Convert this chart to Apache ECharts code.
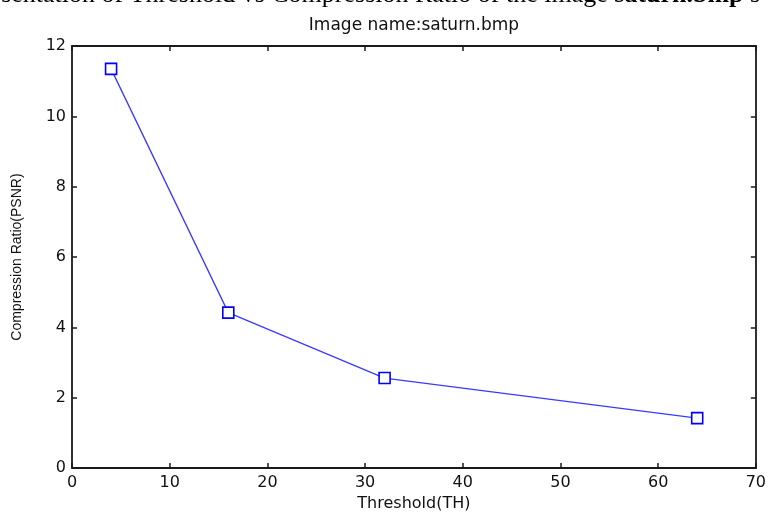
<!DOCTYPE html>
<html>
<head>
<meta charset="utf-8">
<script src="https://cdn.jsdelivr.net/npm/echarts@6/dist/echarts.min.js"></script>
<style>
html,body{margin:0;padding:0;background:#fff;}
#main{width:769px;height:517px;}
</style>
</head>
<body>
<div id="main"></div>
<script>
const thresholds = [4, 16, 32, 64];
const ratios = [11.35, 4.42, 2.56, 1.42];
const xTicks = { min: 0, max: 70, interval: 10 };
const yTicks = { min: 0, max: 12, interval: 2 };
const chartTitle = 'Image name:saturn.bmp';
const xName = 'Threshold(TH)';
const yName = 'Compression Ratio(PSNR)';

const chart = echarts.init(document.getElementById('main'), null, { renderer: 'canvas' });

const axisLineStyle = { color: '#1a1a1a', width: 1.8 };
const tickStyle = { show: true, inside: true, length: 5, lineStyle: { color: '#1a1a1a', width: 1.5 } };
const labelFont = { fontFamily: 'DejaVu Sans', fontSize: 16, color: '#111' };

const option = {
  animation: false,
  backgroundColor: '#fff',
  graphic: [
    {
      type: 'text',
      left: -32,
      top: -18,
      style: {
        text: 'presentation of Threshold vs Compression Ratio of the image {b|saturn.bmp} s',
        fontFamily: 'Liberation Serif',
        fontSize: 26,
        fill: '#000',
        rich: {
          b: { fontFamily: 'Liberation Serif', fontSize: 26, fontWeight: 'bold', fill: '#000' }
        }
      }
    },
    {
      type: 'text',
      x: 414,
      y: 26,
      style: {
        text: chartTitle,
        fontFamily: 'DejaVu Sans',
        fontSize: 17,
        fill: '#111',
        align: 'center',
        verticalAlign: 'middle'
      }
    }
  ],
  grid: { left: 72, right: 11, top: 46, bottom: 45, containLabel: false },
  xAxis: [
    {
      type: 'value',
      min: xTicks.min, max: xTicks.max, interval: xTicks.interval,
      position: 'bottom',
      name: xName,
      nameLocation: 'middle',
      nameGap: 27,
      nameTextStyle: { fontFamily: 'DejaVu Sans', fontSize: 16, color: '#111' },
      axisLine: { show: true, onZero: false, lineStyle: axisLineStyle },
      axisTick: tickStyle,
      axisLabel: Object.assign({ margin: 7 }, labelFont),
      splitLine: { show: false }
    },
    {
      type: 'value',
      min: xTicks.min, max: xTicks.max, interval: xTicks.interval,
      position: 'top',
      axisLine: { show: true, onZero: false, lineStyle: axisLineStyle },
      axisTick: tickStyle,
      axisLabel: { show: false },
      splitLine: { show: false }
    }
  ],
  yAxis: [
    {
      type: 'value',
      min: yTicks.min, max: yTicks.max, interval: yTicks.interval,
      position: 'left',
      name: yName,
      nameLocation: 'middle',
      nameGap: 48,
      nameRotate: 90,
      nameTextStyle: { fontFamily: 'Liberation Sans', fontSize: 14, color: '#111' },
      axisLine: { show: true, onZero: false, lineStyle: axisLineStyle },
      axisTick: tickStyle,
      axisLabel: Object.assign({ margin: 6 }, labelFont),
      splitLine: { show: false }
    },
    {
      type: 'value',
      min: yTicks.min, max: yTicks.max, interval: yTicks.interval,
      position: 'right',
      axisLine: { show: true, onZero: false, lineStyle: axisLineStyle },
      axisTick: tickStyle,
      axisLabel: { show: false },
      splitLine: { show: false }
    }
  ],
  series: [
    {
      type: 'line',
      xAxisIndex: 0,
      yAxisIndex: 0,
      data: thresholds.map((t, i) => [t, ratios[i]]),
      symbol: 'rect',
      symbolSize: 11,
      showAllSymbol: true,
      lineStyle: { color: '#3a3aff', width: 1.3 },
      itemStyle: { color: '#fff', borderColor: '#0000ff', borderWidth: 1.6 }
    }
  ]
};
chart.setOption(option);
</script>
</body>
</html>
